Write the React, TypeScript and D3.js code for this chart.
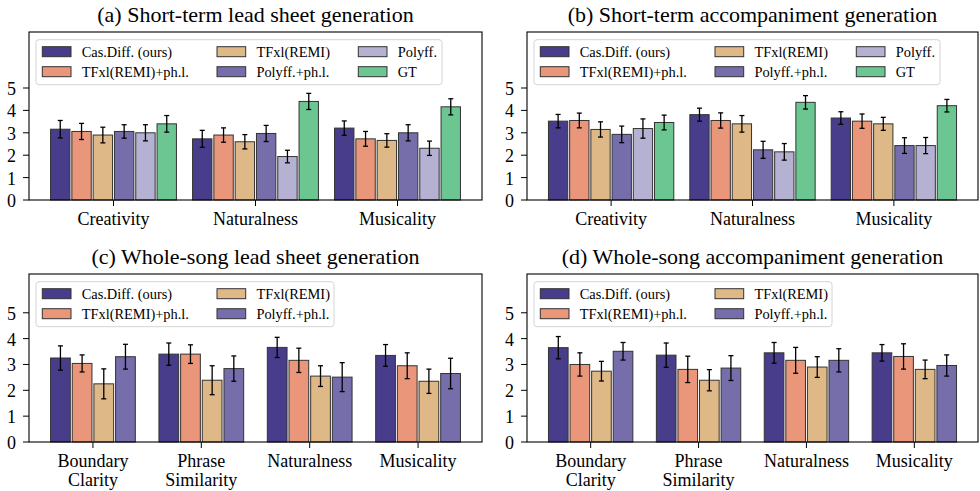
import React from "react";
import * as d3 from "d3";

const seriesShort = ["Cas.Diff. (ours)", "TFxl(REMI)+ph.l.", "TFxl(REMI)", "Polyff.+ph.l.", "Polyff.", "GT"];
const seriesWhole = ["Cas.Diff. (ours)", "TFxl(REMI)+ph.l.", "TFxl(REMI)", "Polyff.+ph.l."];
const colorsShort = ["#483d8b", "#e9967a", "#deb887", "#766dab", "#b4b1d3", "#6bc692"];
const colorsWhole = ["#483d8b", "#e9967a", "#deb887", "#766dab"];

const catsShort = [["Creativity"], ["Naturalness"], ["Musicality"]];
const catsWhole = [["Boundary", "Clarity"], ["Phrase", "Similarity"], ["Naturalness"], ["Musicality"]];
const yTicks = [0, 1, 2, 3, 4, 5];

// means[category][series]
const meanA = [
  [3.16, 3.06, 2.90, 3.06, 3.00, 3.40],
  [2.73, 2.90, 2.60, 2.97, 1.94, 4.40],
  [3.21, 2.73, 2.66, 3.00, 2.31, 4.16],
];
const errA = [
  [0.39, 0.36, 0.35, 0.30, 0.36, 0.37],
  [0.38, 0.32, 0.32, 0.36, 0.28, 0.36],
  [0.32, 0.33, 0.30, 0.36, 0.32, 0.36],
];
const meanB = [
  [3.52, 3.55, 3.15, 2.93, 3.19, 3.46],
  [3.81, 3.55, 3.40, 2.24, 2.15, 4.36],
  [3.66, 3.52, 3.40, 2.43, 2.43, 4.21],
];
const errB = [
  [0.30, 0.33, 0.34, 0.37, 0.43, 0.33],
  [0.29, 0.34, 0.37, 0.38, 0.37, 0.30],
  [0.28, 0.32, 0.29, 0.35, 0.36, 0.28],
];
const meanC = [
  [3.25, 3.04, 2.25, 3.30],
  [3.40, 3.40, 2.39, 2.84],
  [3.66, 3.16, 2.55, 2.51],
  [3.35, 2.95, 2.35, 2.65],
];
const errC = [
  [0.47, 0.33, 0.58, 0.48],
  [0.43, 0.36, 0.56, 0.49],
  [0.39, 0.47, 0.40, 0.56],
  [0.42, 0.50, 0.47, 0.59],
];
const meanD = [
  [3.65, 3.00, 2.74, 3.51],
  [3.36, 2.81, 2.39, 2.86],
  [3.45, 3.16, 2.90, 3.16],
  [3.45, 3.31, 2.81, 2.96],
];
const errD = [
  [0.43, 0.45, 0.38, 0.34],
  [0.47, 0.51, 0.41, 0.48],
  [0.40, 0.50, 0.40, 0.45],
  [0.32, 0.49, 0.36, 0.41],
];

const FONT = "'Liberation Serif', 'Times New Roman', Times, serif";

type PanelProps = {
  title: string;
  left: number;
  top: number;
  width: number;
  height: number;
  yMax: number;
  cats: string[][];
  series: string[];
  colors: string[];
  means: number[][];
  errs: number[][];
  step: number;
  ncol: number;
};

function Panel(p: PanelProps) {
  const nS = p.series.length;
  const nC = p.cats.length;
  const half = (nS * p.step) / 2;
  const span = nC - 1 + 2 * half;
  const margin = span * 0.05;
  const x = d3.scaleLinear().domain([-half - margin, nC - 1 + half + margin]).range([p.left, p.left + p.width]);
  const y = d3.scaleLinear().domain([0, p.yMax]).range([p.top + p.height, p.top]);
  const bw = (x(p.step) - x(0)) * 0.91;
  const bottom = p.top + p.height;
  const rows = Math.ceil(nS / p.ncol);
  const colX = [13.3, 188, 329.3];
  const legW = p.ncol === 3 ? 406 : 298;
  return (
    <g>
      <text x={p.left + p.width / 2} y={p.top - 10} textAnchor="middle" fontSize={22} fontFamily={FONT} fill="#000">
        {p.title}
      </text>
      {p.means.map((row, ci) =>
        row.map((v, si) => {
          const cx = x(ci + (si - (nS - 1) / 2) * p.step);
          return (
            <g key={`${ci}-${si}`}>
              <rect x={cx - bw / 2} y={y(v)} width={bw} height={y(0) - y(v)} fill={p.colors[si]} stroke="#333" strokeWidth={1} />
            </g>
          );
        })
      )}
      {p.means.map((row, ci) =>
        row.map((v, si) => {
          const cx = x(ci + (si - (nS - 1) / 2) * p.step);
          const e = p.errs[ci][si];
          return (
            <g key={`e${ci}-${si}`} stroke="#000" strokeWidth={1.3}>
              <line x1={cx} x2={cx} y1={y(v + e)} y2={y(v - e)} />
              <line x1={cx - 2.5} x2={cx + 2.5} y1={y(v + e)} y2={y(v + e)} />
              <line x1={cx - 2.5} x2={cx + 2.5} y1={y(v - e)} y2={y(v - e)} />
            </g>
          );
        })
      )}
      {/* legend */}
      <rect x={p.left + 7} y={p.top + 7.7} width={legW} height={45} rx={3} ry={3} fill="#fff" fillOpacity={0.8} stroke="#d4d4d4" strokeWidth={1} />
      {p.series.map((s, si) => {
        const col = Math.floor(si / rows);
        const r = si % rows;
        const lx = p.left + colX[col];
        const cy = p.top + 19.7 + r * 20;
        return (
          <g key={s}>
            <rect x={lx} y={cy - 5} width={28.7} height={10} fill={p.colors[si]} stroke="#333" strokeWidth={1} />
            <text x={lx + 39.4} y={cy + 5} fontSize={14.4} fontFamily={FONT} fill="#000">
              {s}
            </text>
          </g>
        );
      })}
      {/* y ticks */}
      {yTicks.map((t) => (
        <g key={t}>
          <line x1={p.left - 6} x2={p.left} y1={y(t)} y2={y(t)} stroke="#000" strokeWidth={1} />
          <text x={p.left - 13} y={y(t) + 7} textAnchor="end" fontSize={18} fontFamily={FONT} fill="#000">
            {t}
          </text>
        </g>
      ))}
      {/* x ticks */}
      {p.cats.map((c, ci) => (
        <g key={ci}>
          <line x1={x(ci)} x2={x(ci)} y1={bottom} y2={bottom + 6} stroke="#000" strokeWidth={1} />
          {c.map((line, li) => (
            <text key={li} x={x(ci)} y={bottom + 25 + li * 18.5} textAnchor="middle" fontSize={18} fontFamily={FONT} fill="#000">
              {line}
            </text>
          ))}
        </g>
      ))}
      <rect x={p.left} y={p.top} width={p.width} height={p.height} fill="none" stroke="#000" strokeWidth={1.1} />
    </g>
  );
}

export default function App() {
  return (
    <svg width={980} height={491} style={{ position: "absolute", left: 0, top: 0, background: "#fff" }}>
      <rect width={980} height={491} fill="#fff" />
      <Panel title="(a) Short-term lead sheet generation" left={29} top={32} width={453} height={168} yMax={7.5}
        cats={catsShort} series={seriesShort} colors={colorsShort} means={meanA} errs={errA} step={0.15} ncol={3} />
      <Panel title="(b) Short-term accompaniment generation" left={527} top={32} width={451} height={168} yMax={7.5}
        cats={catsShort} series={seriesShort} colors={colorsShort} means={meanB} errs={errB} step={0.15} ncol={3} />
      <Panel title="(c) Whole-song lead sheet generation" left={29} top={274} width={453} height={168} yMax={6.5}
        cats={catsWhole} series={seriesWhole} colors={colorsWhole} means={meanC} errs={errC} step={0.2} ncol={2} />
      <Panel title="(d) Whole-song accompaniment generation" left={527} top={274} width={451} height={168} yMax={6.5}
        cats={catsWhole} series={seriesWhole} colors={colorsWhole} means={meanD} errs={errD} step={0.2} ncol={2} />
    </svg>
  );
}
